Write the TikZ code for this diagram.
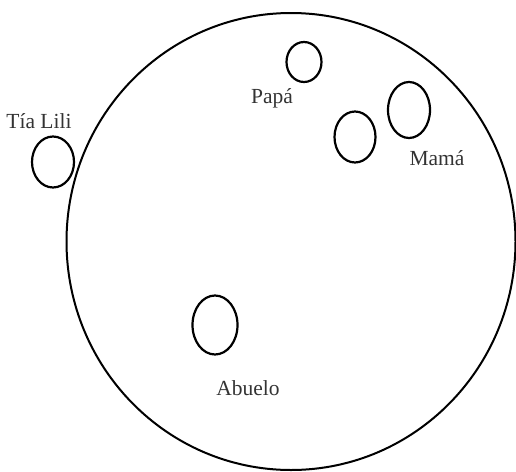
\documentclass[tikz,border=0pt]{standalone}
\usepackage{fontspec}
\setmainfont{Liberation Serif}
\usetikzlibrary{shapes.geometric}
\definecolor{textogris}{HTML}{333333}
\tikzset{
  persona/.style={draw, ellipse, line width=2.2pt, inner sep=0pt},
  nombre/.style={text=textogris, font=\fontsize{21.5}{25}\selectfont, inner sep=0pt}
}
\begin{document}
\begin{tikzpicture}[x=1pt,y=-1pt]
        \useasboundingbox (0,0) rectangle (516,471);

        % Big circle
        \node[persona, line width=2pt, minimum width=449pt, minimum height=457pt] (familia) at (291,241.5) {};

        % People
        \node[persona, minimum width=42pt, minimum height=51pt] (lili) at (53,162) {};
        \node[persona, minimum width=35pt, minimum height=40pt] (papa) at (304,62) {};
        \node[persona, minimum width=41pt, minimum height=51pt] (yo) at (355,137) {};
        \node[persona, minimum width=42pt, minimum height=56pt] (mama) at (409,110) {};
        \node[persona, minimum width=45pt, minimum height=59pt] (abuelo) at (215,325) {};

        % Labels
        \node[nombre] (tlili) at (39,121) {Tía Lili};
        \node[nombre] (tpapa) at (272,98) {Papá};
        \node[nombre] (tmama) at (437,158) {Mamá};
        \node[nombre] (tabuelo) at (248,388) {Abuelo};
\end{tikzpicture}
\end{document}
